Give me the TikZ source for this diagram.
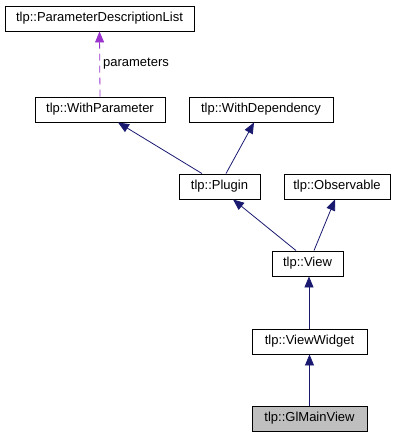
\documentclass[tikz,border=0pt]{standalone}
\usepackage{fontspec}
\setmainfont{Liberation Sans}
\usetikzlibrary{arrows.meta,calc}
\definecolor{edgeblue}{HTML}{191970}
\definecolor{dashpurple}{HTML}{9A32CD}
\definecolor{boxgrey}{HTML}{BFBFBF}
\begin{document}
\begin{tikzpicture}[x=1pt,y=-1pt,
  cls/.style={draw=black, line width=0.9pt, minimum height=25pt, inner sep=0pt,
    font=\fontsize{13}{15}\selectfont, fill=white},
  inh/.style={draw=edgeblue, line width=0.8pt, -{Triangle[length=11pt,width=9pt,fill=edgeblue]}},
  usedby/.style={draw=dashpurple, line width=0.8pt, dash pattern=on 7pt off 5pt,
    -{Triangle[length=11pt,width=9pt,fill=dashpurple]}},
  lbl/.style={font=\fontsize{13}{15}\selectfont, inner sep=3pt}]
\useasboundingbox (0,0) rectangle (400,437);
\node[cls, minimum width=189pt] (pdl) at (99.5,18.5) {tlp::ParameterDescriptionList};
\node[cls, minimum width=130pt] (wp) at (100,109.5) {tlp::WithParameter};
\node[cls, minimum width=144pt] (wd) at (261,109.5) {tlp::WithDependency};
\node[cls, minimum width=81pt] (plugin) at (219.5,186.5) {tlp::Plugin};
\node[cls, minimum width=106pt] (obs) at (337,186.5) {tlp::Observable};
\node[cls, minimum width=71pt] (view) at (307.5,263.5) {tlp::View};
\node[cls, minimum width=115pt] (vw) at (309.5,341.5) {tlp::ViewWidget};
\node[cls, minimum width=115pt, fill=boxgrey] (gmv) at (309.5,418.5) {tlp::GlMainView};
\draw[usedby] (wp.north) -- (pdl.south) node[midway, right, lbl, text=black] {parameters};
\draw[inh] ($(plugin.north)+(-17.5,0)$) -- ($(wp.south)+(18,0)$);
\draw[inh] ($(plugin.north)+(6.5,0)$) -- ($(wd.south)+(-7,0)$);
\draw[inh] ($(view.north)+(-11.5,0)$) -- ($(plugin.south)+(13.5,0)$);
\draw[inh] ($(view.north)+(6.5,0)$) -- ($(obs.south)+(-2,0)$);
\draw[inh] ($(vw.north)+(-0.5,0)$) -- ($(view.south)+(1.5,0)$);
\draw[inh] (gmv.north) -- (vw.south);
\end{tikzpicture}
\end{document}
